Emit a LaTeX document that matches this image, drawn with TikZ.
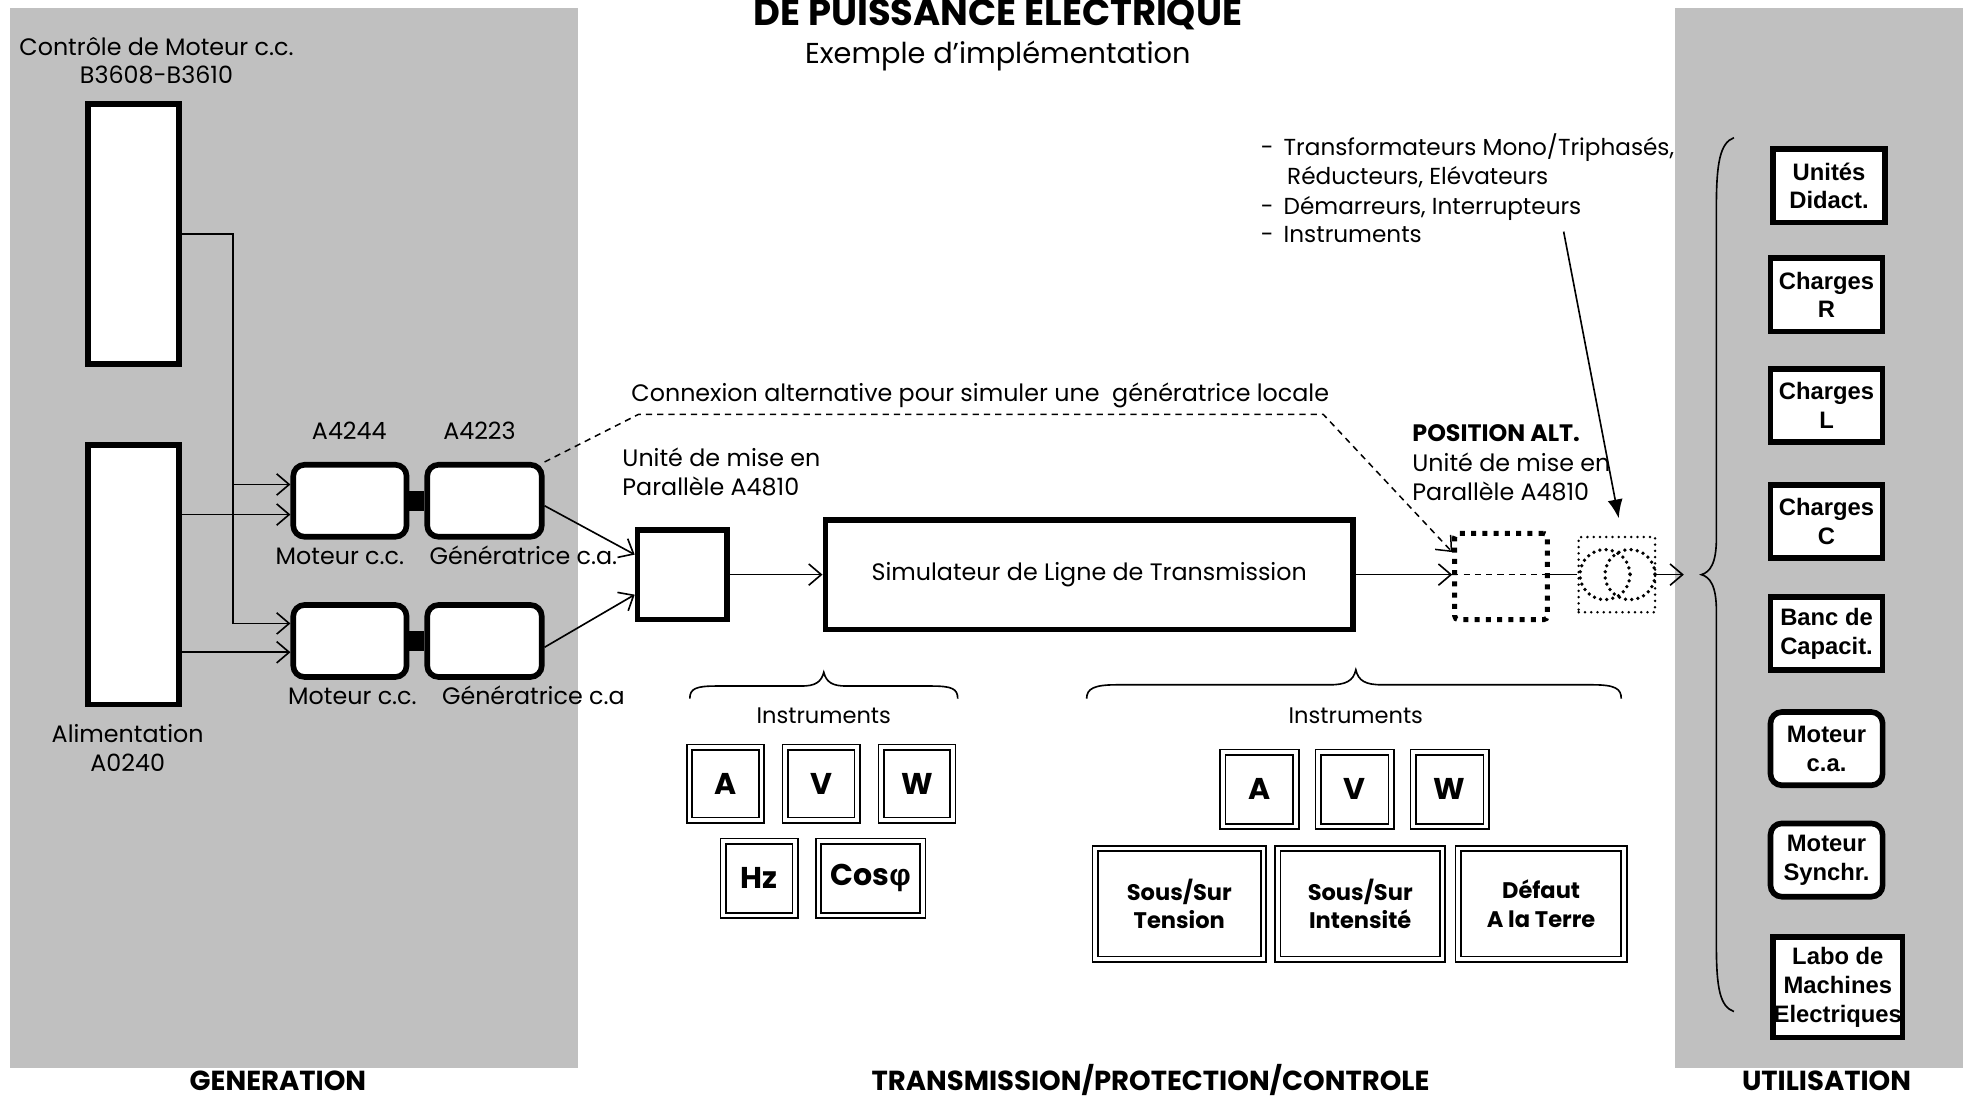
\documentclass[tikz,border=0pt]{standalone}
\usepackage{fontspec}
\setmainfont{Poppins}
\newfontfamily\arl{Liberation Sans}
\usetikzlibrary{arrows.meta,calc}
\definecolor{panel}{RGB}{192,192,192}
\begin{document}
\begin{tikzpicture}[x=1pt,y=-1pt,
  ln/.style={line width=1.3pt},
  arr/.style={ln,-{Straight Barb[length=10pt,width=17pt,line width=1.3pt]}},
  dsh/.style={line width=1.2pt,dash pattern=on 5pt off 4pt},
  txt/.style={font=\fontsize{19}{23}\selectfont,inner sep=0pt,anchor=base,align=center},
  txtl/.style={txt,anchor=base west,align=left},
  btxt/.style={font=\bfseries\fontsize{22}{26}\selectfont,inner sep=0pt,anchor=base},
  tb/.style={draw,line width=4.5pt,fill=white,inner sep=0pt,align=center,
    font=\arl\bfseries\fontsize{19}{23}\selectfont},
  rb/.style={tb,rounded corners=9pt},
  db/.style={draw,double,line width=1.3pt,double distance=3pt,fill=white,inner sep=0pt,
    align=center,font=\bfseries\fontsize{24}{28}\selectfont},
  dbs/.style={db,font=\bfseries\fontsize{18}{23}\selectfont},
  altb/.style={draw,line width=4pt,dash pattern=on 4pt off 5pt,rounded corners=3pt,inner sep=0pt},
  dotb/.style={draw,line width=2.2pt,line cap=round,dash pattern=on 0pt off 5pt,inner sep=0pt}
]
\useasboundingbox (0,0) rectangle (1568,877);
% panels
\fill[panel] (8,6) rectangle (462,853);
\fill[panel] (1338,6) rectangle (1568,853);

% titles
\node[btxt,font=\bfseries\fontsize{29.5}{33}\selectfont] (title) at (797,20) {DE PUISSANCE ELECTRIQUE};
\node[txt,font=\fontsize{23}{27}\selectfont] (sub) at (797,51) {Exemple d’implémentation};
\node[btxt] (lgen) at (222,871) {GENERATION};
\node[btxt] (ltra) at (919,871) {TRANSMISSION/PROTECTION/CONTROLE};
\node[btxt] (luti) at (1459,871) {UTILISATION};

% generation side
\node[txt] (lctrl) at (125,67) {Contrôle de Moteur c.c.\\B3608-B3610};
\node[tb,minimum width=72.5,minimum height=207.5] (ctrl) at (106.5,187) {};
\node[tb,minimum width=72.5,minimum height=207.5] (alim) at (106.5,459) {};
\node[txt] (lalim) at (102,616) {Alimentation\\A0240};

\node[rb,minimum width=90.5,minimum height=57.5] (mot1) at (279.5,400) {};
\node[rb,minimum width=91.5,minimum height=57.5] (gen1) at (387,400) {};
\node[rb,minimum width=90.5,minimum height=57.5] (mot2) at (279.5,512) {};
\node[rb,minimum width=91.5,minimum height=57.5] (gen2) at (387,512) {};
\fill (mot1.east |- 0,392) rectangle (gen1.west |- 0,408);
\fill (mot2.east |- 0,504) rectangle (gen2.west |- 0,520);
\node[txt] (la1) at (279,351) {A4244};
\node[txt] (la2) at (383,351) {A4223};
\node[txt] (lm1) at (271.5,451) {Moteur c.c.};
\node[txt] (lg1) at (418,451) {Génératrice c.a.};
\node[txt] (lm2) at (281.5,563) {Moteur c.c.};
\node[txt] (lg2) at (426,563) {Génératrice c.a};

\draw[arr] (ctrl.east) -| (186,498) -- (mot2.west |- 0,498);
\draw[arr] (186,387) -- (mot1.west |- 0,387);
\draw[arr] (alim.east |- 0,411) -- (mot1.west |- 0,411);
\draw[arr] (alim.east |- 0,521) -- (mot2.west |- 0,521);

% transmission
\node[tb,minimum width=71.5,minimum height=71.5] (par) at (545,459) {};
\node[txtl] (lpar) at (497,396) {Unité de mise en\\Parallèle A4810};
\node[tb,minimum width=421.5,minimum height=87.5,font=\fontsize{19}{23}\selectfont] (sim) at (870,459) {Simulateur de Ligne de Transmission};
\draw[arr] (gen1.east |- 0,404) -- (par.west |- 0,443);
\draw[arr] (gen2.east |- 0,517) -- (par.west |- 0,475);
\draw[arr] (par.east) -- (sim.west);

\node[txt] (lcon) at (783,321) {Connexion alternative pour simuler une\ \ génératrice locale};
\node[altb,minimum width=74,minimum height=69] (alt) at (1199,460.5) {};
\draw[dsh,-{Straight Barb[length=10pt,width=17pt,line width=1.2pt]}] (gen1.north east) -- (510,331) -- (1057,331) -- (alt.west |- 0,441);
\draw[arr] (sim.east) -- (alt.west |- sim.east);
\draw[dsh] (alt.west |- sim.east) -- (alt.east |- sim.east);
\node[btxt,anchor=base west,font=\bfseries\fontsize{19}{23}\selectfont] (lpos) at (1128,353) {POSITION ALT.};
\node[txtl] (lalt) at (1128,400) {Unité de mise en\\Parallèle A4810};

\node[dotb,minimum width=61,minimum height=60] (tr) at (1291.5,459) {};
\draw[dotb,line width=3pt] (1282,459) circle (20);
\draw[dotb,line width=3pt] (1302,459) circle (20);
\draw[ln] (alt.east |- sim.east) -- (tr.west);
\coordinate (btip) at (1345,459);
\draw[arr] (tr.east) -- (btip);

\node[txtl,font=\fontsize{18.5}{23}\selectfont] (l1) at (1007,124) {-\hspace{8pt}Transformateurs Mono/Triphasés,};
\node[txtl,font=\fontsize{18.5}{23}\selectfont] (l2) at (1028,147) {Réducteurs, Elévateurs};
\node[txtl,font=\fontsize{18.5}{23}\selectfont] (l3) at (1007,171) {-\hspace{8pt}Démarreurs, Interrupteurs};
\node[txtl,font=\fontsize{18.5}{23}\selectfont] (l4) at (1007,194) {-\hspace{8pt}Instruments};
\coordinate (lst) at (1249,185);
\coordinate (lend) at (1293,414);
\draw[ln,-{Latex[length=15pt,width=12pt]}] (lst) -- (lend);

% instrument braces
\draw[ln] (551,558) .. controls (551,550) and (556,548) .. (572,548) -- (640,548)
  .. controls (651,548) and (656,545) .. (658,537)
  .. controls (660,545) and (665,548) .. (676,548) -- (744,548)
  .. controls (760,548) and (765,550) .. (765,558);
\draw[ln] (868,558) .. controls (868,550) and (874,547) .. (892,547) -- (1062,547)
  .. controls (1075,547) and (1081,544) .. (1083,535)
  .. controls (1085,544) and (1091,547) .. (1104,547) -- (1272,547)
  .. controls (1290,547) and (1295,550) .. (1295,558);
\node[txt,font=\fontsize{18}{22}\selectfont] (li1) at (658,578) {Instruments};
\node[txt,font=\fontsize{18}{22}\selectfont] (li2) at (1083,578) {Instruments};

\node[db,minimum width=57.4,minimum height=58.4] (iA) at (579.5,626) {A};
\node[db,minimum width=57.4,minimum height=58.4] (iV) at (656,626) {V};
\node[db,minimum width=57.4,minimum height=58.4] (iW) at (732.5,626) {W};
\node[db,minimum width=57.4,minimum height=59.4] (iH) at (606.5,701.5) {Hz};
\node[db,minimum width=83.4,minimum height=59.4] (iC) at (695.5,701.5) {Cos{\arl φ}};

\node[db,minimum width=58.4,minimum height=59.4] (jA) at (1006,630.5) {A};
\node[db,minimum width=58.4,minimum height=59.4] (jV) at (1082,630.5) {V};
\node[db,minimum width=58.4,minimum height=59.4] (jW) at (1158,630.5) {W};
\node[dbs,minimum width=134.4,minimum height=88.4] (jT) at (942,722) {Sous/Sur\\Tension};
\node[dbs,minimum width=131.4,minimum height=88.4] (jI) at (1086.5,722) {Sous/Sur\\Intensité};
\node[dbs,minimum width=132.4,minimum height=88.4] (jD) at (1231,722) {Défaut\\A la Terre};

% utilisation
\draw[ln] (1385,110) .. controls (1374,114) and (1371,130) .. (1371,165) -- (1371,430)
  .. controls (1371,450) and (1366,457) .. (1359,459)
  .. controls (1366,461) and (1371,468) .. (1371,488) -- (1371,755)
  .. controls (1371,790) and (1374,804) .. (1385,808);
\node[tb,minimum width=89.5,minimum height=58.5] (u1) at (1461,148.5) {Unités\\Didact.};
\node[tb,minimum width=89.5,minimum height=58.5] (u2) at (1459,235.5) {Charges\\R};
\node[tb,minimum width=89.5,minimum height=58.5] (u3) at (1459,324) {Charges\\L};
\node[tb,minimum width=89.5,minimum height=58.5] (u4) at (1459,416.5) {Charges\\C};
\node[tb,minimum width=89.5,minimum height=58.5] (u5) at (1459,506) {Banc de\\Capacit.};
\node[rb,minimum width=89.5,minimum height=58.5] (u6) at (1459,598) {Moteur\\c.a.};
\node[rb,minimum width=89.5,minimum height=58.5] (u7) at (1459,687) {Moteur\\Synchr.};
\node[tb,minimum width=103.5,minimum height=80.5] (u8) at (1468,788.5) {Labo de\\Machines\\Electriques};
\end{tikzpicture}
\end{document}
